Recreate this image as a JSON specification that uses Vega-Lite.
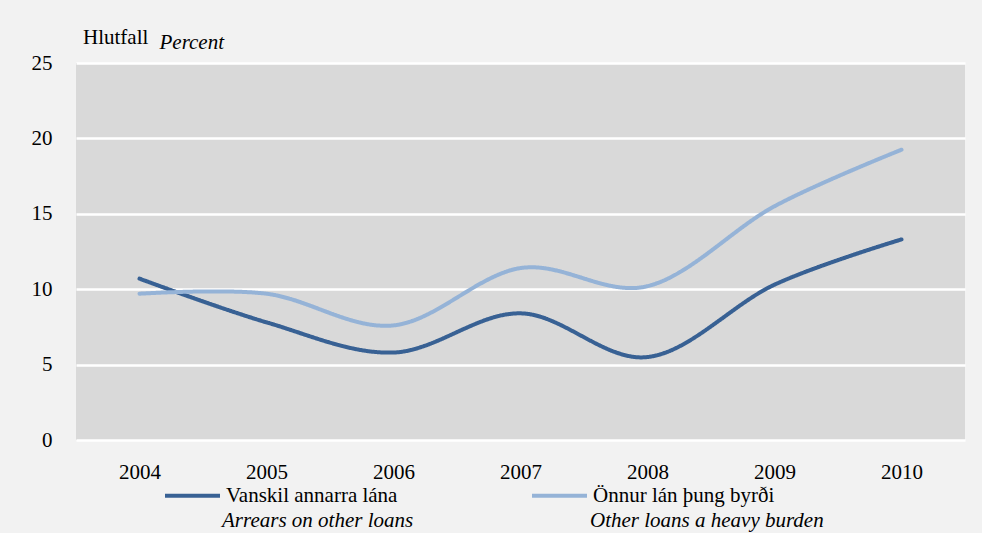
{
  "$schema": "https://vega.github.io/schema/vega-lite/v6.json",
  "autosize": {"type": "none"},
  "width": 889,
  "height": 377,
  "padding": {"left": 76, "top": 63, "right": 17, "bottom": 93},
  "background": "#f2f2f2",
  "title": {
    "text": "Hlutfall",
    "anchor": "start",
    "frame": "group",
    "font": "Liberation Serif",
    "fontSize": 21,
    "fontWeight": "normal",
    "color": "#000000",
    "offset": 0,
    "dx": 7,
    "dy": 17
  },
  "data": {
    "values": [
      {"year": "2004", "series": "Vanskil annarra lána", "en": "Arrears on other loans", "value": 10.7},
      {"year": "2005", "series": "Vanskil annarra lána", "en": "Arrears on other loans", "value": 7.8},
      {"year": "2006", "series": "Vanskil annarra lána", "en": "Arrears on other loans", "value": 5.8},
      {"year": "2007", "series": "Vanskil annarra lána", "en": "Arrears on other loans", "value": 8.4},
      {"year": "2008", "series": "Vanskil annarra lána", "en": "Arrears on other loans", "value": 5.5},
      {"year": "2009", "series": "Vanskil annarra lána", "en": "Arrears on other loans", "value": 10.3},
      {"year": "2010", "series": "Vanskil annarra lána", "en": "Arrears on other loans", "value": 13.3},
      {"year": "2004", "series": "Önnur lán þung byrði", "en": "Other loans a heavy burden", "value": 9.7},
      {"year": "2005", "series": "Önnur lán þung byrði", "en": "Other loans a heavy burden", "value": 9.7},
      {"year": "2006", "series": "Önnur lán þung byrði", "en": "Other loans a heavy burden", "value": 7.6},
      {"year": "2007", "series": "Önnur lán þung byrði", "en": "Other loans a heavy burden", "value": 11.4},
      {"year": "2008", "series": "Önnur lán þung byrði", "en": "Other loans a heavy burden", "value": 10.2},
      {"year": "2009", "series": "Önnur lán þung byrði", "en": "Other loans a heavy burden", "value": 15.5},
      {"year": "2010", "series": "Önnur lán þung byrði", "en": "Other loans a heavy burden", "value": 19.25}
    ]
  },
  "mark": {"type": "line", "interpolate": "cardinal", "tension": 0, "strokeWidth": 4, "strokeCap": "round"},
  "encoding": {
    "x": {
      "field": "year",
      "type": "ordinal",
      "scale": {"type": "point", "padding": 0.5},
      "axis": {
        "title": null,
        "labelAngle": 0,
        "ticks": false,
        "domain": false,
        "labelPadding": 21,
        "labelFont": "Liberation Serif",
        "labelFontSize": 21,
        "labelColor": "#000000"
      }
    },
    "y": {
      "field": "value",
      "type": "quantitative",
      "scale": {"domain": [0, 25]},
      "axis": {
        "values": [0, 5, 10, 15, 20, 25],
        "title": "Percent",
        "titleAngle": 0,
        "titleAlign": "left",
        "titleBaseline": "alphabetic",
        "titleX": 83,
        "titleY": -15,
        "titleFont": "Liberation Serif",
        "titleFontSize": 21,
        "titleFontStyle": "italic",
        "titleFontWeight": "normal",
        "titleColor": "#000000",
        "ticks": false,
        "domain": false,
        "labelPadding": 24,
        "labelFont": "Liberation Serif",
        "labelFontSize": 21,
        "labelColor": "#000000",
        "grid": true,
        "gridColor": "#ffffff",
        "gridWidth": 2.5,
        "gridOpacity": 1
      }
    },
    "color": {
      "field": "series",
      "type": "nominal",
      "scale": {"domain": ["Vanskil annarra lána", "Önnur lán þung byrði"], "range": ["#386194", "#95b3d7"]},
      "legend": {
        "orient": "none",
        "legendX": 87,
        "legendY": 403,
        "direction": "horizontal",
        "title": null,
        "padding": 0,
        "symbolType": "stroke",
        "symbolSize": 3025,
        "symbolStrokeWidth": 4,
        "labelOffset": 4,
        "columnPadding": 126,
        "labelFont": "Liberation Serif",
        "labelFontSize": 21,
        "labelColor": "#000000",
        "labelLimit": 400
      }
    },
    "strokeDash": {
      "field": "en",
      "type": "nominal",
      "scale": {"domain": ["Arrears on other loans", "Other loans a heavy burden"], "range": [[1, 0], [1, 0]]},
      "legend": {
        "orient": "none",
        "legendX": 125,
        "legendY": 447,
        "direction": "horizontal",
        "title": null,
        "padding": 0,
        "symbolSize": 1,
        "symbolOpacity": 0,
        "symbolStrokeWidth": 0,
        "labelOffset": 0,
        "columnPadding": 155,
        "labelFont": "Liberation Serif",
        "labelFontSize": 21,
        "labelFontStyle": "italic",
        "labelColor": "#000000",
        "labelLimit": 400
      }
    }
  },
  "config": {
    "font": "Liberation Serif",
    "view": {"fill": "#d9d9d9", "stroke": null}
  }
}
